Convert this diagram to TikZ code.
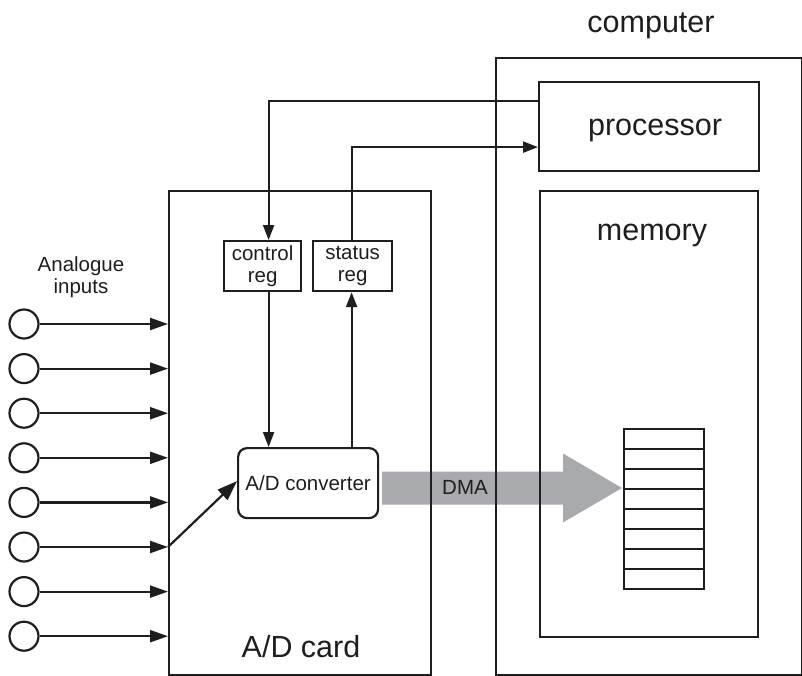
\documentclass[tikz,border=0pt]{standalone}
\usepackage{fontspec}
\setmainfont{Liberation Sans}
\usetikzlibrary{arrows.meta,calc}
\definecolor{ink}{HTML}{1E1E1E}
\definecolor{dmagray}{HTML}{A9AAAD}
\begin{document}
\begin{tikzpicture}[x=1pt,y=-1pt,color=ink,line width=2.2pt,
  box/.style={draw,rectangle,inner sep=0pt,anchor=north west},
  big/.style={font=\fontsize{30.5}{36}\selectfont},
  small/.style={font=\fontsize{20.5}{22.5}\selectfont},
  sig/.style={-{Triangle[length=15pt,width=11pt]}},
  bigsig/.style={-{Triangle[length=20pt,width=14pt]}},
  inarrow/.style={-{Triangle[length=18pt,width=12pt]}},
  port/.style={circle,draw,minimum size=29pt,inner sep=0pt}]
\useasboundingbox (0,0) rectangle (802,675);

% DMA transfer arrow, drawn first so the box outlines lie on top of it
\coordinate (dmatail) at (382,488);
\coordinate (dmatip) at (622,488);
\fill[dmagray] ($(dmatail)+(0,-16.5)$) -- ($(dmatip)+(-59,-16.5)$)
  -- ($(dmatip)+(-59,-34.5)$) -- (dmatip) -- ($(dmatip)+(-59,34.5)$)
  -- ($(dmatip)+(-59,16.5)$) -- ($(dmatail)+(0,16.5)$) -- cycle;
\node[small,anchor=base] (dmatext) at (465,494) {DMA};

% computer side
\node[box,minimum width=306pt,minimum height=617pt] (computer) at (495,57) {};
\node[big,anchor=base] (complabel) at (651,32) {computer};
\node[box,minimum width=220pt,minimum height=89pt] (proc) at (538,81) {};
\node[big,anchor=base] (proctext) at (655,135) {processor};
\node[box,minimum width=218pt,minimum height=446pt] (memory) at (539,190) {};
\node[big,anchor=base] (memtext) at (652,240) {memory};
\foreach \i in {0,...,7}
  \node[box,minimum width=80pt,minimum height=20pt] (cell\i) at (623,{428+20*\i}) {};

% A/D card
\node[box,minimum width=262pt,minimum height=484pt] (card) at (168,190) {};
\node[big,anchor=base] (cardtext) at (301,657) {A/D card};
\node[box,small,align=center,minimum width=77pt,minimum height=50pt] (ctrl) at (223,240) {control\\reg};
\node[box,small,align=center,minimum width=79pt,minimum height=50pt] (stat) at (312,240) {status\\reg};
\node[draw,rounded corners=9pt,small,inner sep=0pt,minimum width=140pt,minimum height=70pt,anchor=north west] (adc) at (237,447) {A/D converter};

% register connections
\draw[sig] ([yshift=25.5pt]proc.west) -| ([xshift=6pt]ctrl.north);
\draw[sig] ([xshift=-1pt]stat.north) |- ([yshift=-20.5pt]proc.west);
\draw[sig] ([xshift=6pt]ctrl.south) -- ([xshift=6pt]ctrl.south |- adc.north);
\draw[sig] ([xshift=-1pt]stat.south |- adc.north) -- ([xshift=-1pt]stat.south);

% analogue inputs
\node[small,align=center] (inlabel) at (81,277) {Analogue\\inputs};
\foreach \i in {0,...,7} {
  \node[port] (in\i) at (24,{324+44.6*\i}) {};
  \draw[inarrow] (in\i) -- (in\i -| card.west);
}
\coordinate (mux) at (in5 -| card.west);
\draw[bigsig] (mux) -- ([yshift=2pt]adc.west);
\end{tikzpicture}
\end{document}
